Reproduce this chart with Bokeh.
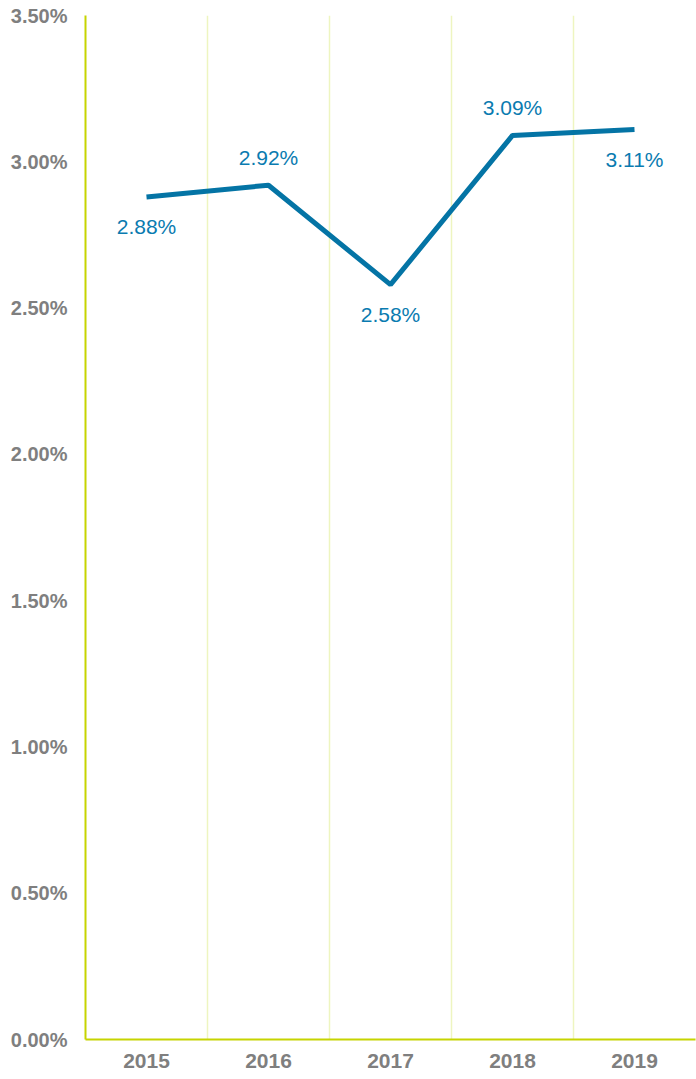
from bokeh.plotting import figure
from bokeh.models import FixedTicker, PrintfTickFormatter, ColumnDataSource, Range1d
from bokeh.embed import file_html
from bokeh.resources import INLINE
from bokeh.core.properties import value

years = ["2015", "2016", "2017", "2018", "2019"]
rates = [2.88, 2.92, 2.58, 3.09, 3.11]
label_below = [True, False, True, False, True]
y_ticks = [0.0, 0.5, 1.0, 1.5, 2.0, 2.5, 3.0, 3.5]

xs = [i + 0.5 for i in range(len(years))]
labels = ["%.2f%%" % r for r in rates]

p = figure(width=696, height=1079, output_backend="svg", toolbar_location=None,
           x_range=Range1d(0, len(years)), y_range=Range1d(0, 3.5),
           min_border_left=85, min_border_right=1, min_border_top=15, min_border_bottom=40)
p.outline_line_color = None
p.background_fill_color = "white"

line_color = "#0474a5"
p.line(xs, rates, line_color=line_color, line_width=5)

below_src = ColumnDataSource(dict(x=[x for x, b in zip(xs, label_below) if b],
                                  y=[r for r, b in zip(rates, label_below) if b],
                                  t=[t for t, b in zip(labels, label_below) if b]))
above_src = ColumnDataSource(dict(x=[x for x, b in zip(xs, label_below) if not b],
                                  y=[r for r, b in zip(rates, label_below) if not b],
                                  t=[t for t, b in zip(labels, label_below) if not b]))
common = dict(text="t", text_align="center", text_baseline="middle",
              text_font=value("Liberation Sans"), text_font_size="21px",
              text_color="#0a7bb0")
p.text(x="x", y="y", source=below_src, y_offset=30, **common)
p.text(x="x", y="y", source=above_src, y_offset=-28, **common)

axis_color = "#c6d400"
# x axis
p.xaxis.ticker = FixedTicker(ticks=xs)
p.xaxis.major_label_overrides = {x: y for x, y in zip(xs, years)}
p.xaxis.axis_line_color = axis_color
p.xaxis.axis_line_width = 2
p.xaxis.major_tick_line_color = None
p.xaxis.minor_tick_line_color = None
p.xaxis.major_tick_out = 0
p.xaxis.major_label_standoff = 14
p.xaxis.major_label_text_font = "Liberation Sans"
p.xaxis.major_label_text_font_size = "21px"
p.xaxis.major_label_text_font_style = "bold"
p.xaxis.major_label_text_color = "#7f7f7f"

# y axis
p.yaxis.ticker = FixedTicker(ticks=y_ticks)
p.yaxis.formatter = PrintfTickFormatter(format="%.2f%%")
p.yaxis.axis_line_color = axis_color
p.yaxis.axis_line_width = 2
p.yaxis.major_tick_line_color = None
p.yaxis.minor_tick_line_color = None
p.yaxis.major_tick_out = 0
p.yaxis.major_label_standoff = 18
p.yaxis.major_label_text_font = "Liberation Sans"
p.yaxis.major_label_text_font_size = "20px"
p.yaxis.major_label_text_font_style = "bold"
p.yaxis.major_label_text_color = "#7f7f7f"

# grids
p.ygrid.grid_line_color = None
p.xgrid.ticker = FixedTicker(ticks=list(range(1, len(years) + 1)))
p.xgrid.grid_line_color = "#eef5c0"
p.xgrid.grid_line_width = 1.5

open("out.html", "w").write(file_html(p, INLINE))
